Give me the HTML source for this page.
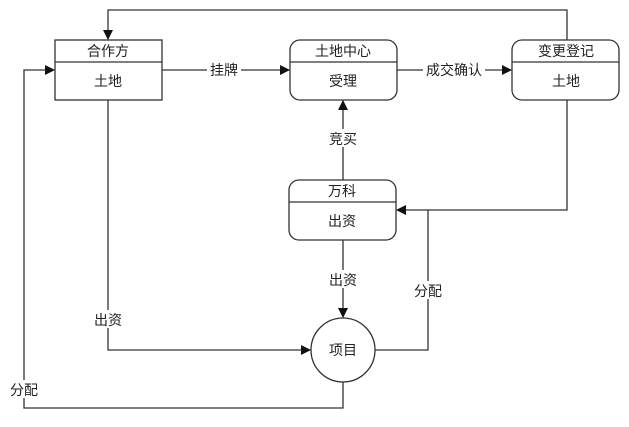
<!DOCTYPE html>
<html><head><meta charset="utf-8"><style>
body{margin:0;background:#fff}
text{font-family:"Liberation Sans","Noto Sans CJK SC",sans-serif;font-size:14px;fill:#222}
</style></head><body>
<svg width="629" height="422" viewBox="0 0 629 422" xmlns="http://www.w3.org/2000/svg">
<defs><marker id="a" markerWidth="10" markerHeight="10" refX="9" refY="5" orient="auto" markerUnits="userSpaceOnUse"><path d="M0,0 L10,5 L0,10 z" fill="#111"/></marker></defs>
<g fill="none" stroke="#333" stroke-width="1.3">
<rect x="55" y="40" width="107" height="60"/>
<line x1="55" y1="62" x2="162" y2="62"/>
<rect x="290" y="40" width="107" height="60" rx="10"/>
<line x1="290" y1="62" x2="397" y2="62"/>
<rect x="512" y="40" width="107" height="60" rx="10"/>
<line x1="512" y1="62" x2="619" y2="62"/>
<rect x="289" y="180" width="107" height="60" rx="10"/>
<line x1="289" y1="202" x2="396" y2="202"/>
<circle cx="343" cy="350" r="32"/>
<polyline points="567,40 567,10 108,10 108,39" marker-end="url(#a)"/>
<line x1="162" y1="70" x2="289" y2="70" marker-end="url(#a)"/>
<line x1="397" y1="70" x2="511" y2="70" marker-end="url(#a)"/>
<line x1="343" y1="180" x2="343" y2="101" marker-end="url(#a)"/>
<line x1="343" y1="240" x2="343" y2="317" marker-end="url(#a)"/>
<polyline points="567,100 567,210 397,210" marker-end="url(#a)"/>
<polyline points="375,350 428,350 428,210"/>
<polyline points="108,100 108,350 310,350" marker-end="url(#a)"/>
<polyline points="343,382 343,408 24,408 24,70 54,70" marker-end="url(#a)"/>
</g>
<g text-anchor="middle">
<text x="108" y="56">合作方</text><text x="108" y="86">土地</text>
<text x="343" y="56">土地中心</text><text x="343" y="86">受理</text>
<text x="566" y="56">变更登记</text><text x="566" y="86">土地</text>
<text x="342" y="196">万科</text><text x="342" y="226">出资</text>
<text x="343" y="355">项目</text>
</g>
<g text-anchor="middle">
<rect x="207" y="60" width="34" height="18" fill="#fff"/><text x="224" y="75">挂牌</text>
<rect x="423" y="60" width="62" height="18" fill="#fff"/><text x="454" y="75">成交确认</text>
<rect x="326" y="129" width="34" height="18" fill="#fff"/><text x="343" y="144">竞买</text>
<rect x="326" y="270" width="34" height="18" fill="#fff"/><text x="343" y="285">出资</text>
<rect x="411" y="281" width="34" height="18" fill="#fff"/><text x="428" y="296">分配</text>
<rect x="91" y="310" width="34" height="18" fill="#fff"/><text x="108" y="325">出资</text>
<rect x="7" y="380" width="34" height="18" fill="#fff"/><text x="24" y="395">分配</text>
</g>
</svg>
</body></html>
